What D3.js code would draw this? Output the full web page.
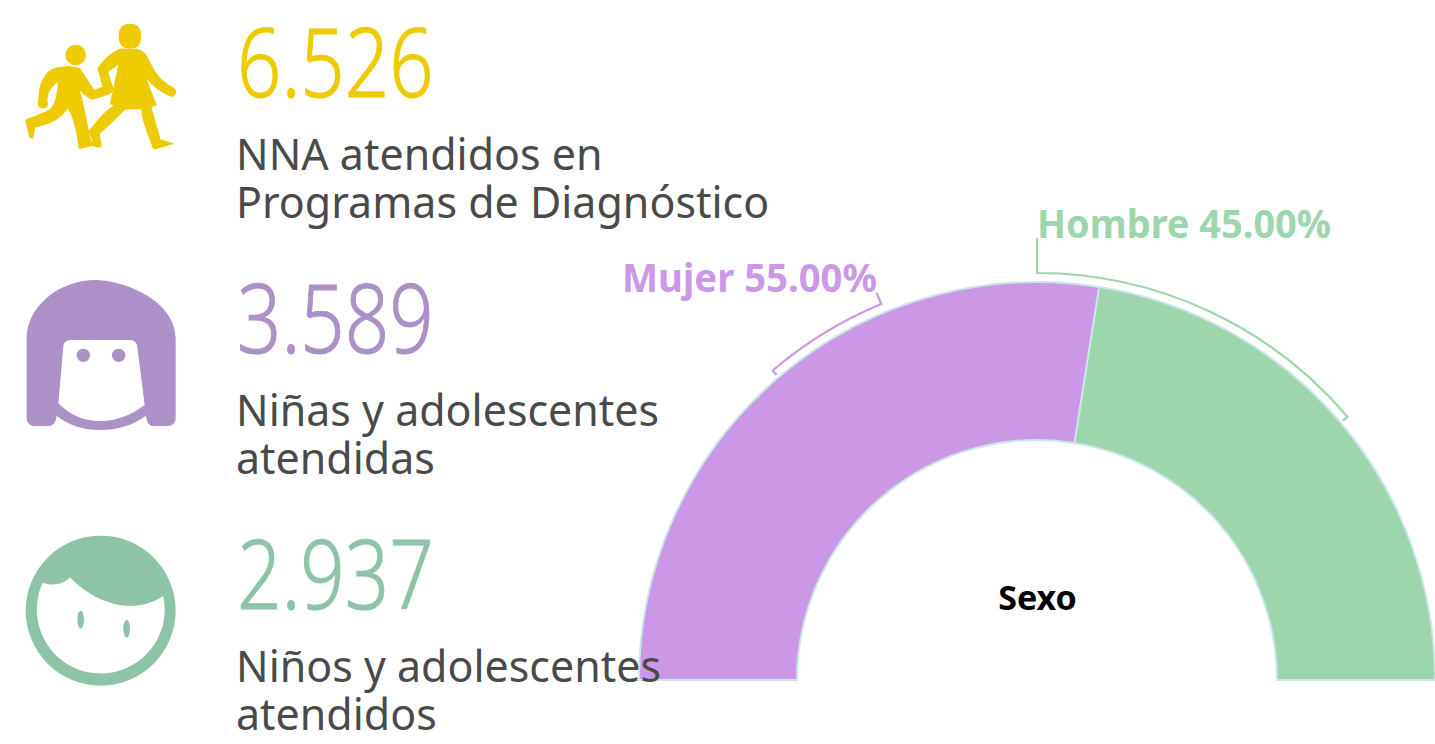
<!DOCTYPE html>
<html>
<head>
<meta charset="utf-8">
<script src="https://cdn.jsdelivr.net/npm/d3@7"></script>
<style>
html,body{margin:0;padding:0;background:#fff;overflow:hidden}
svg{display:block}
text{font-family:"Noto Sans",sans-serif}
</style>
</head>
<body>
<svg id="chart" width="1435" height="744"></svg>
<script>
// left column figures
const statValues = ['6.526', '3.589', '2.937'];
const statLabels = [
	['NNA atendidos en', 'Programas de Diagnóstico'],
	['Niñas y adolescentes', 'atendidas'],
	['Niños y adolescentes', 'atendidos']
];
const statColors = ['#eecb00', '#ab91c5', '#8dc3a7'];

// gauge
const sexCategories = ['Mujer', 'Hombre'];
const sexValues = [55, 45];
const sexColors = ['#ca98e7', '#9dd5ac'];
const gaugeTitle = 'Sexo';

const svg = d3.select('#chart');
const textColor = '#4a4a4a';
const rad = Math.PI / 180;

// gauge layout
const cx = 1037, cy = 680, outerR = 398, innerR = 240, bracketR = 407;

function drawGauge(){
	const g = svg.append('g').attr('transform', `translate(${cx},${cy})`);
	const pie = d3.pie().sort(null).startAngle(-Math.PI / 2).endAngle(Math.PI / 2);
	const arcFunc = d3.arc().innerRadius(innerR).outerRadius(outerR);

	g.selectAll('path.slice')
		.data(pie(sexValues))
		.enter()
		.append('path')
		.attr('class', 'slice')
		.attr('d', arcFunc)
		.attr('fill', (d, i) => sexColors[i])
		.attr('stroke', '#cbe6e8')
		.attr('stroke-width', 2);

	// the brackets do not follow the slices in the original, angles are read off it
	drawBracket(g, -22.5, -40.5, 12, sexColors[0]);
	drawBracket(g, 0, 49.7, 35, sexColors[1]);

	g.append('text')
		.attr('x', 0.5)
		.attr('y', -70)
		.attr('text-anchor', 'middle')
		.attr('font-size', 34)
		.attr('font-weight', 700)
		.attr('fill', '#000')
		.text(gaugeTitle);
}

function drawBracket(g, fromDeg, toDeg, leader, color){
	const pt = (r, deg) => [r * Math.sin(deg * rad), -r * Math.cos(deg * rad)];
	const p = d3.path();
	const s = pt(bracketR + leader, fromDeg);
	const e = pt(bracketR - 6, toDeg);
	p.moveTo(s[0], s[1]);
	p.arc(0, 0, bracketR, (fromDeg - 90) * rad, (toDeg - 90) * rad, toDeg < fromDeg);
	p.lineTo(e[0], e[1]);
	g.append('path')
		.attr('d', p.toString())
		.attr('fill', 'none')
		.attr('stroke', color)
		.attr('stroke-width', 2.2);
}

function drawGaugeLabels(){
	svg.append('text')
		.attr('x', 622)
		.attr('y', 292)
		.attr('textLength', 255)
		.attr('lengthAdjust', 'spacingAndGlyphs')
		.attr('font-size', 40)
		.attr('font-weight', 700)
		.attr('fill', sexColors[0])
		.text(`${sexCategories[0]} ${sexValues[0].toFixed(2)}%`);
	svg.append('text')
		.attr('x', 1037)
		.attr('y', 238)
		.attr('textLength', 294)
		.attr('lengthAdjust', 'spacingAndGlyphs')
		.attr('font-size', 40)
		.attr('font-weight', 700)
		.attr('fill', sexColors[1])
		.text(`${sexCategories[1]} ${sexValues[1].toFixed(2)}%`);
}

function addStat(i){
	const numberY = [97, 353, 609][i];
	const labelY = [170, 426, 682][i];
	svg.append('text')
		.attr('transform', `translate(237,${numberY}) scale(0.81,1)`)
		.attr('font-size', 96)
		.attr('font-weight', 300)
		.attr('fill', statColors[i])
		.attr('stroke', statColors[i])
		.attr('stroke-width', 1)
		.text(statValues[i]);
	statLabels[i].forEach((line, j) => {
		svg.append('text')
			.attr('transform', `translate(236,${labelY + j * 48}) scale(0.976,1)`)
			.attr('font-size', 44)
			.attr('fill', textColor)
			.text(line);
	});
}

// icons, hand traced at 3x
function drawKids(){
	const g = svg.append('g').attr('transform', 'scale(0.3333)')
		.attr('fill', statColors[0])
		.attr('stroke', statColors[0])
		.attr('stroke-width', 4)
		.attr('stroke-linejoin', 'round');
	g.append('path').attr('d', 'M358 108 C358 85 370 73 390 73 C410 73 422 85 422 108 C422 130 414 144 390 144 C366 144 358 130 358 108 Z');
	g.append('circle').attr('cx', 227).attr('cy', 165).attr('r', 29);
	// boy
	g.append('path').attr('d', 'M205 200 C170 203 150 205 135 230 C120 250 117 275 117 300 C112 308 115 322 127 323 C140 324 145 315 140 305 C140 280 150 258 176 243 C174 270 172 300 160 318 C150 335 130 340 78 360 L90 412 L98 414 L103 382 C125 375 150 370 165 360 C180 350 195 335 205 322 C220 350 228 380 232 405 L238 445 L298 431 L272 425 L266 400 C258 360 250 310 236 265 C250 280 262 292 275 297 L325 282 C333 279 338 272 338 265 L308 262 L282 272 L238 205 Z');
	// girl
	g.append('path').attr('d', 'M360 148 C340 155 310 180 295 205 L310 262 L338 265 L322 215 L358 190 L332 310 L345 318 C315 330 285 375 268 392 L285 440 L303 440 L297 400 C325 378 350 350 375 327 L425 325 C430 380 455 420 458 440 L465 446 L518 431 L480 420 L452 320 L468 315 L432 222 C450 250 480 275 515 289 C528 285 530 272 520 265 C490 250 465 225 450 190 C440 165 430 152 410 148 Z');
}

function drawGirlFace(){
	const g = svg.append('g').attr('transform', 'translate(0,265) scale(0.3333)');
	g.append('path').attr('fill', statColors[1])
		.attr('d', 'M80 220 C80 130 170 45 290 45 C380 48 527 110 527 220 L527 460 C527 475 515 483 505 483 L460 483 C447 483 440 470 438 452 C400 480 350 495 300 495 C250 495 205 480 170 452 C168 470 160 483 145 483 L100 483 C90 483 80 472 80 460 Z');
	g.append('path').attr('fill', '#fff')
		.attr('d', 'M190 245 C190 232 200 225 212 225 L390 225 C402 225 410 232 412 245 L434 420 C395 450 350 468 300 468 C250 468 210 450 175 415 Z');
	g.selectAll('circle').data([250, 356]).enter().append('circle')
		.attr('cx', d => d).attr('cy', 271).attr('r', 20).attr('fill', statColors[1]);
}

function drawBoyFace(){
	const g = svg.append('g').attr('transform', 'translate(0,520) scale(0.3333)');
	g.append('circle').attr('cx', 302).attr('cy', 272).attr('r', 225).attr('fill', statColors[2]);
	g.append('path').attr('fill', '#fff')
		.attr('d', 'M128 188 C150 198 190 195 210 172 C260 225 330 258 390 258 C430 258 465 245 490 228 A192 192 0 1 1 128 188 Z');
	g.selectAll('ellipse').data([[242, 299], [380, 326]]).enter().append('ellipse')
		.attr('cx', d => d[0]).attr('cy', d => d[1]).attr('rx', 10).attr('ry', 27).attr('fill', statColors[2]);
}

drawGauge();
drawGaugeLabels();
drawKids();
drawGirlFace();
drawBoyFace();
statValues.forEach((d, i) => addStat(i));
</script>
</body>
</html>
